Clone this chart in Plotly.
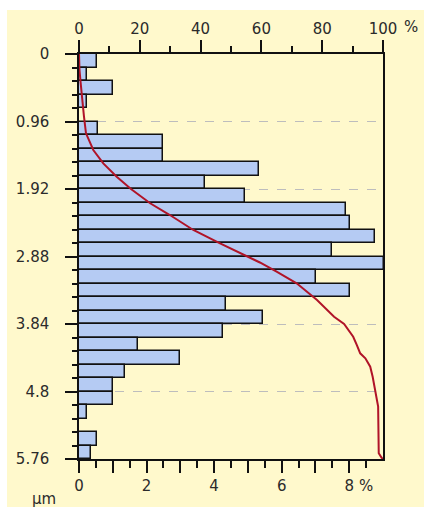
import plotly.graph_objects as go

# Particle size classes (lower edge of each class, µm) and class width
bin_lower = [0.0, 0.192, 0.384, 0.576, 0.768, 0.96, 1.152, 1.344, 1.536, 1.728,
             1.92, 2.112, 2.304, 2.496, 2.688, 2.88, 3.072, 3.264, 3.456, 3.648,
             3.84, 4.032, 4.224, 4.416, 4.608, 4.8, 4.992, 5.184, 5.376, 5.568]
bin_width = 0.192

# Share of each size class (%)
share_pct = [0.52, 0.23, 1.0, 0.25, 0.0, 0.57, 2.5, 2.5, 5.33, 3.74,
             4.92, 7.9, 8.02, 8.77, 7.49, 9.04, 7.03, 8.02, 4.34, 5.45,
             4.27, 1.74, 3.0, 1.37, 1.0, 1.0, 0.23, 0.0, 0.52, 0.35]

# Cumulative distribution (size in µm, cumulative %)
cum_size = [0.0, 0.228, 0.417, 0.654, 0.892, 1.128, 1.365, 1.555, 1.745, 1.92,
            2.123, 2.29, 2.503, 2.692, 2.88, 2.965, 3.096, 3.261, 3.499, 3.736,
            3.84, 4.021, 4.139, 4.257, 4.328, 4.447, 4.59, 4.807, 5.016, 5.348,
            5.679, 5.74, 5.76]
cum_pct = [0.0, 0.16, 0.56, 0.99, 1.64, 2.3, 4.7, 7.99, 12.4, 17.1,
           23.4, 29.9, 37.6, 46.4, 55.2, 59.5, 65.0, 71.6, 78.3, 83.9,
           87.2, 90.2, 91.4, 92.5, 94.2, 95.8, 96.6, 97.5, 98.4, 98.5,
           98.6, 99.5, 100.0]

# Axis ticks
y_ticks = [0, 0.96, 1.92, 2.88, 3.84, 4.8, 5.76]
y_tick_text = ["0", "0.96", "1.92", "2.88", "3.84", "4.8", "5.76"]
share_ticks = [0, 1, 2, 3, 4, 5, 6, 7, 8]
share_tick_text = ["0", "", "2", "", "4", "", "6", "", "8"]
share_minor = [0.5, 1.5, 2.5, 3.5, 4.5, 5.5, 6.5, 7.5, 8.5]
cum_ticks = [0, 20, 40, 60, 80, 100]
cum_minor = [10, 30, 50, 70, 90]

FONT = "DejaVu Sans"
FSIZE = 15
TXT = "#2b2b2b"
YELLOW = "#FFF9CC"

bin_mid = [lo + bin_width / 2 for lo in bin_lower]

fig = go.Figure()

fig.add_trace(go.Bar(
    x=share_pct, y=bin_mid, width=bin_width, orientation="h",
    marker=dict(color="#B5CBF3", line=dict(color="#111111", width=1.5)),
    cliponaxis=False, xaxis="x", yaxis="y", showlegend=False,
))

fig.add_trace(go.Scatter(
    x=cum_pct, y=cum_size, mode="lines",
    line=dict(color="#B01428", width=2),
    xaxis="x2", yaxis="y", showlegend=False,
))

# Pale yellow panel behind the chart
fig.add_shape(type="rect", xref="paper", yref="paper",
              x0=(7 - 79) / 304, x1=(424 - 79) / 304,
              y0=(459 - 507) / 405, y1=(459 - 10) / 405,
              fillcolor=YELLOW, line=dict(width=0), layer="below")

fig.update_layout(
    width=424, height=509,
    margin=dict(l=79, r=41, t=54, b=50),
    paper_bgcolor="white", plot_bgcolor="white",
    font=dict(family=FONT, size=FSIZE, color=TXT),
    bargap=0,
    xaxis=dict(
        range=[0, 9], tickvals=share_ticks, ticktext=share_tick_text,
        ticks="outside", ticklen=12, tickwidth=1.5, tickcolor="#111",
        minor=dict(tickvals=share_minor, ticks="outside", ticklen=7,
                   tickwidth=1.5, tickcolor="#111", showgrid=False),
        showgrid=False, zeroline=False,
        showline=True, linecolor="#111", linewidth=1.5, mirror=True,
        ticklabelstandoff=0,
    ),
    xaxis2=dict(
        range=[0, 100], overlaying="x", side="top",
        tickvals=cum_ticks, ticks="outside", ticklen=12, tickwidth=1.5,
        tickcolor="#111",
        minor=dict(tickvals=cum_minor, ticks="outside", ticklen=6,
                   tickwidth=1.5, tickcolor="#111", showgrid=False),
        showgrid=False, zeroline=False,
        showline=True, linecolor="#111", linewidth=1.5,
        ticklabelstandoff=0,
    ),
    yaxis=dict(
        range=[5.76, 0], tickvals=y_ticks, ticktext=y_tick_text,
        ticks="outside", ticklen=12, tickwidth=1.5, tickcolor="#111",
        minor=dict(tickvals=bin_lower[1:], ticks="outside", ticklen=5,
                   tickwidth=1.5, tickcolor="#111", showgrid=False),
        showgrid=True, gridcolor="#BDBDBD", griddash="dash", gridwidth=1,
        zeroline=False,
        showline=True, linecolor="#111", linewidth=1.5, mirror=True,
        ticklabelstandoff=13,
    ),
)

# Unit labels
fig.add_annotation(text="%", xref="x", yref="paper", x=8, y=(459 - 486) / 405,
                   xanchor="left", yanchor="middle", xshift=8, showarrow=False,
                   font=dict(family=FONT, size=FSIZE, color=TXT))
fig.add_annotation(text="%", xref="x2", yref="paper", x=100, y=(459 - 27) / 405,
                   xanchor="left", yanchor="middle", xshift=19, showarrow=False,
                   font=dict(family=FONT, size=FSIZE, color=TXT))
fig.add_annotation(text="µm", xref="paper", yref="paper",
                   x=(44 - 79) / 304, y=(459 - 499) / 405,
                   xanchor="center", yanchor="middle", showarrow=False,
                   font=dict(family=FONT, size=FSIZE, color=TXT))

fig.write_html("out.html")
